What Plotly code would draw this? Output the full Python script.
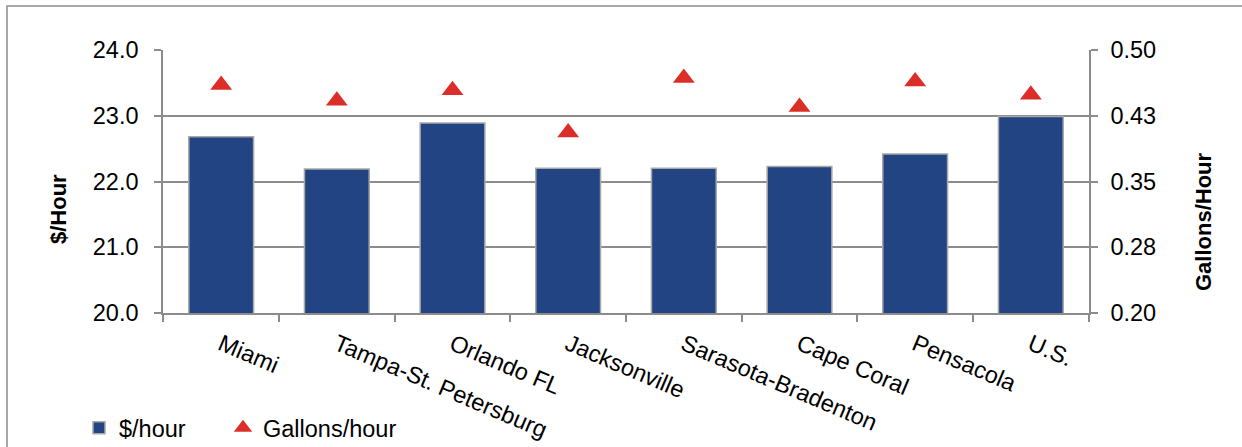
import plotly.graph_objects as go

categories = ["Miami", "Tampa-St. Petersburg", "Orlando FL", "Jacksonville",
              "Sarasota-Bradenton", "Cape Coral", "Pensacola", "U.S."]
dollars_per_hour = [22.68, 22.19, 22.89, 22.20, 22.20, 22.23, 22.42, 22.99]
gallons_per_hour = [0.460, 0.442, 0.454, 0.406, 0.468, 0.435, 0.464, 0.449]
right_tickvals = [0.20, 0.275, 0.35, 0.425, 0.50]
right_ticktext = ["0.20", "0.28", "0.35", "0.43", "0.50"]

W, H = 1242, 447
L, R, T, B = 163, 153, 50, 134
pw, ph = W - L - R, H - T - B

def px_x(x):
    return (x - L) / pw

def px_y(y):
    return (H - B - y) / ph

AX = "#8c8c8c"
FONT = "Liberation Sans, Arial, sans-serif"
FS = 23.5

fig = go.Figure()
fig.add_trace(go.Bar(
    x=categories, y=dollars_per_hour, name="$/hour",
    marker=dict(color="#234483", line=dict(color="#a8a8a8", width=1.5)),
    yaxis="y", legend="legend",
))
fig.add_trace(go.Scatter(
    x=categories, y=gallons_per_hour, name="Gallons/hour", mode="markers",
    marker=dict(symbol="triangle-up", size=19, color="#dc2e28", line=dict(width=0)),
    yaxis="y2", legend="legend2",
))

leg_common = dict(orientation="h", xanchor="left", yanchor="middle",
                  font=dict(size=FS), bgcolor="rgba(0,0,0,0)", itemclick=False)

fig.update_layout(
    width=W, height=H,
    margin=dict(l=L, r=R, t=T, b=B, autoexpand=False),
    paper_bgcolor="white", plot_bgcolor="white",
    font=dict(family=FONT, size=FS, color="#000"),
    bargap=0.44,
    showlegend=True,
    legend=dict(x=px_x(79), y=px_y(428), **leg_common),
    legend2=dict(x=px_x(223), y=px_y(428), **leg_common),
    xaxis=dict(type="category", showline=True, linecolor=AX, linewidth=1.5,
               ticks="outside", ticklen=7, tickcolor=AX, tickwidth=1.5,
               tickson="boundaries", tickangle=23, showgrid=False,
               ticklabelstandoff=7, tickfont=dict(size=FS), fixedrange=True),
    yaxis=dict(range=[20, 24], dtick=1, tickformat=".1f", showline=True,
               linecolor=AX, linewidth=1.5, ticks="outside", ticklen=7,
               tickcolor=AX, tickwidth=1.5, showgrid=True, gridcolor=AX,
               gridwidth=1.5, zeroline=False, ticklabelstandoff=11,
               tickfont=dict(size=FS)),
    yaxis2=dict(range=[0.2, 0.5], overlaying="y", side="right",
                tickvals=right_tickvals, ticktext=right_ticktext,
                showline=True, linecolor=AX, linewidth=1.5, ticks="outside",
                ticklen=7, tickcolor=AX, tickwidth=1.5, showgrid=False,
                zeroline=False, ticklabelstandoff=8, tickfont=dict(size=FS)),
    annotations=[
        dict(text="<b>$/Hour</b>", xref="paper", yref="paper", x=px_x(58), y=px_y(209),
             xanchor="center", yanchor="middle",
             textangle=-90, showarrow=False, font=dict(size=22)),
        dict(text="<b>Gallons/Hour</b>", xref="paper", yref="paper", x=px_x(1203), y=px_y(222),
             xanchor="center", yanchor="middle",
             textangle=-90, showarrow=False, font=dict(size=22)),
    ],
    shapes=[
        dict(type="rect", xref="paper", yref="paper", x0=px_x(7), x1=px_x(1260),
             y0=px_y(470), y1=px_y(6), line=dict(color="#8c8c8c", width=1.5),
             fillcolor="rgba(0,0,0,0)", layer="below"),
    ],
)

fig.write_html("out.html")
